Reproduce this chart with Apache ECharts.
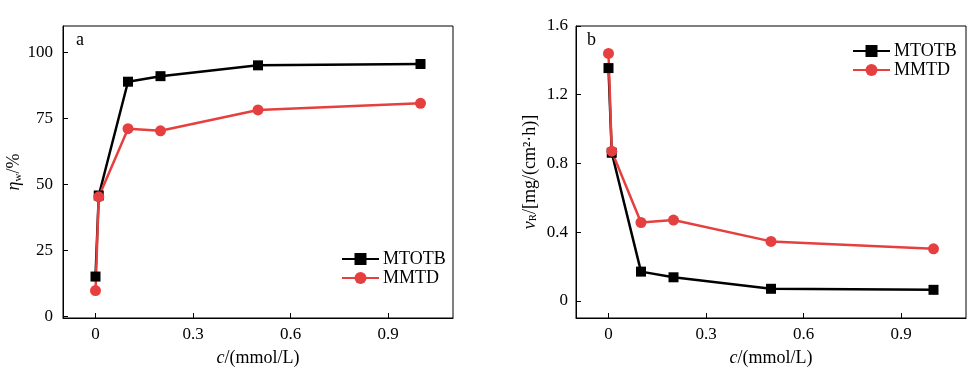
<!DOCTYPE html>
<html>
<head>
<meta charset="utf-8">
<script src="https://cdn.jsdelivr.net/npm/echarts@6/dist/echarts.min.js"></script>
<style>
html,body{margin:0;padding:0;background:#fff;}
#c{width:978px;height:373px;}
</style>
</head>
<body>
<div id="c"></div>
<script>
// ---- data ----
const conc = [0, 0.01, 0.1, 0.2, 0.5, 1.0];
const etaMTOTB = [15.1, 45.8, 88.9, 91.0, 95.1, 95.6];
const etaMMTD = [9.8, 45.3, 71.1, 70.3, 78.2, 80.7];
const vMTOTB = [1.355, 0.862, 0.170, 0.137, 0.070, 0.064];
const vMMTD = [1.44, 0.871, 0.456, 0.470, 0.346, 0.303];
const xTicks = [0, 0.3, 0.6, 0.9];
const etaTicks = [0, 25, 50, 75, 100];
const vTicks = [0, 0.4, 0.8, 1.2, 1.6];
const seriesNames = ['MTOTB', 'MMTD'];

const FONT = 'Liberation Serif';
const BLACK = '#000000';
const RED = '#e5403f';

function pairs(xs, ys) { return xs.map((x, i) => [x, ys[i]]); }

function xAxis(gi) {
  return {
    type: 'value', gridIndex: gi, min: -0.1, max: 1.1,
    name: '{i|c}/(mmol/L)', nameLocation: 'middle', nameGap: 31,
    nameTextStyle: { fontFamily: FONT, fontSize: 18, color: BLACK,
      rich: { i: { fontFamily: FONT, fontSize: 18, fontStyle: 'italic', color: BLACK } } },
    axisLine: { show: true, onZero: false, lineStyle: { color: BLACK, width: 1 } },
    axisTick: { show: true, inside: true, length: 5, customValues: xTicks, lineStyle: { color: BLACK } },
    axisLabel: { customValues: xTicks, margin: 8, fontFamily: FONT, fontSize: 17, color: BLACK },
    splitLine: { show: false }
  };
}

const legendCommon = {
  orient: 'vertical', itemWidth: 37, itemHeight: 15, itemGap: 1,
  data: seriesNames,
  textStyle: { fontFamily: FONT, fontSize: 18, color: BLACK, lineHeight: 18, padding: [0, 0, 0, -1] }
};

const option = {
  backgroundColor: '#ffffff',
  animation: false,
  textStyle: { fontFamily: FONT },
  grid: [
    { left: 63, top: 26, width: 390, height: 292, show: true, borderColor: BLACK, borderWidth: 1, backgroundColor: 'transparent' },
    { left: 576, top: 26, width: 390, height: 292, show: true, borderColor: BLACK, borderWidth: 1, backgroundColor: 'transparent' }
  ],
  xAxis: [xAxis(0), xAxis(1)],
  yAxis: [
    {
      type: 'value', gridIndex: 0, min: -0.6, max: 110,
      name: '{i|η}{s|w}/%', nameLocation: 'middle', nameGap: 37, nameRotate: 90,
      nameTextStyle: { fontFamily: FONT, fontSize: 18, color: BLACK,
        rich: {
          i: { fontFamily: FONT, fontSize: 18, fontStyle: 'italic', color: BLACK },
          s: { fontFamily: FONT, fontSize: 11, color: BLACK, verticalAlign: 'bottom', padding: [7, 0, 0, 0] }
        } },
      axisLine: { show: true, onZero: false, lineStyle: { color: BLACK, width: 1 } },
      axisTick: { show: true, inside: true, length: 5, customValues: etaTicks, lineStyle: { color: BLACK } },
      axisLabel: { customValues: etaTicks, margin: 10, fontFamily: FONT, fontSize: 17, color: BLACK },
      splitLine: { show: false }
    },
    {
      type: 'value', gridIndex: 1, min: -0.1, max: 1.6,
      name: '{i|v}{s|R}/[mg/(cm²·h)]', nameLocation: 'middle', nameGap: 37, nameRotate: 90,
      nameTextStyle: { fontFamily: FONT, fontSize: 18, color: BLACK,
        rich: {
          i: { fontFamily: FONT, fontSize: 18, fontStyle: 'italic', color: BLACK },
          s: { fontFamily: FONT, fontSize: 11, color: BLACK, verticalAlign: 'bottom', padding: [7, 0, 0, 0] }
        } },
      axisLine: { show: true, onZero: false, lineStyle: { color: BLACK, width: 1 } },
      axisTick: { show: true, inside: true, length: 5, customValues: vTicks, lineStyle: { color: BLACK } },
      axisLabel: { customValues: vTicks, margin: 8, fontFamily: FONT, fontSize: 17, color: BLACK },
      splitLine: { show: false }
    }
  ],
  legend: [
    Object.assign({ left: 336, top: 245 }, legendCommon),
    Object.assign({ left: 847, top: 37 }, legendCommon)
  ],
  graphic: [
    { type: 'text', left: 76, top: 31, style: { text: 'a', font: '18px "Liberation Serif"', fill: BLACK } },
    { type: 'text', left: 587, top: 31, style: { text: 'b', font: '18px "Liberation Serif"', fill: BLACK } }
  ],
  series: [
    { name: 'MTOTB', type: 'line', xAxisIndex: 0, yAxisIndex: 0, data: pairs(conc, etaMTOTB),
      symbol: 'rect', symbolSize: 10, itemStyle: { color: BLACK }, lineStyle: { color: BLACK, width: 2.5 } },
    { name: 'MMTD', type: 'line', xAxisIndex: 0, yAxisIndex: 0, data: pairs(conc, etaMMTD),
      symbol: 'circle', symbolSize: 11, itemStyle: { color: RED }, lineStyle: { color: RED, width: 2.5 } },
    { name: 'MTOTB', type: 'line', xAxisIndex: 1, yAxisIndex: 1, data: pairs(conc, vMTOTB),
      symbol: 'rect', symbolSize: 10, itemStyle: { color: BLACK }, lineStyle: { color: BLACK, width: 2.5 } },
    { name: 'MMTD', type: 'line', xAxisIndex: 1, yAxisIndex: 1, data: pairs(conc, vMMTD),
      symbol: 'circle', symbolSize: 11, itemStyle: { color: RED }, lineStyle: { color: RED, width: 2.5 } }
  ]
};

const chart = echarts.init(document.getElementById('c'), null, { renderer: 'canvas', width: 978, height: 373 });
chart.setOption(option);
</script>
</body>
</html>
